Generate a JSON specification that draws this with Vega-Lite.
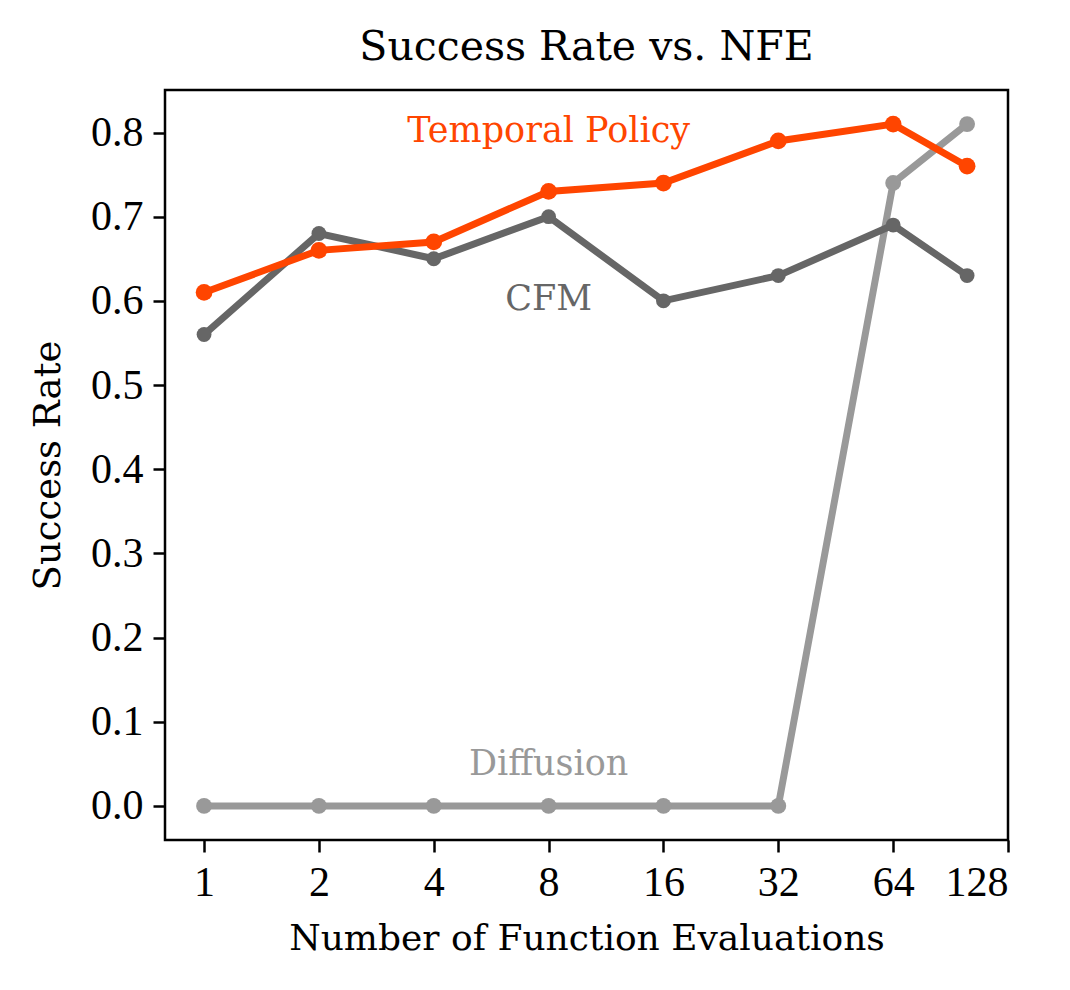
{
  "$schema": "https://vega.github.io/schema/vega-lite/v6.json",
  "autosize": {"type": "none"},
  "padding": {"left": 165, "top": 90, "right": 62, "bottom": 150},
  "width": 843,
  "height": 750,
  "background": "white",
  "config": {
    "font": "DejaVu Serif",
    "view": {"stroke": "black", "strokeWidth": 2.5},
    "axis": {
      "grid": false,
      "domain": false,
      "tickColor": "black",
      "tickSize": 12,
      "tickWidth": 2.5,
      "labelFont": "Liberation Serif",
      "labelFontSize": 42,
      "labelColor": "black",
      "labelPadding": 10,
      "titleFont": "DejaVu Serif",
      "titleFontSize": 37,
      "titleFontWeight": "normal",
      "titleColor": "black"
    }
  },
  "title": {
    "text": "Success Rate vs. NFE",
    "font": "DejaVu Serif",
    "fontSize": 41,
    "fontWeight": "normal",
    "color": "black",
    "offset": 21
  },
  "data": {
    "values": [
      {"nfe": 1, "series": "Temporal Policy", "rate": 0.61},
      {"nfe": 2, "series": "Temporal Policy", "rate": 0.66},
      {"nfe": 4, "series": "Temporal Policy", "rate": 0.67},
      {"nfe": 8, "series": "Temporal Policy", "rate": 0.73},
      {"nfe": 16, "series": "Temporal Policy", "rate": 0.74},
      {"nfe": 32, "series": "Temporal Policy", "rate": 0.79},
      {"nfe": 64, "series": "Temporal Policy", "rate": 0.81},
      {"nfe": 100, "series": "Temporal Policy", "rate": 0.76},
      {"nfe": 1, "series": "CFM", "rate": 0.56},
      {"nfe": 2, "series": "CFM", "rate": 0.68},
      {"nfe": 4, "series": "CFM", "rate": 0.65},
      {"nfe": 8, "series": "CFM", "rate": 0.70},
      {"nfe": 16, "series": "CFM", "rate": 0.60},
      {"nfe": 32, "series": "CFM", "rate": 0.63},
      {"nfe": 64, "series": "CFM", "rate": 0.69},
      {"nfe": 100, "series": "CFM", "rate": 0.63},
      {"nfe": 1, "series": "Diffusion", "rate": 0.0},
      {"nfe": 2, "series": "Diffusion", "rate": 0.0},
      {"nfe": 4, "series": "Diffusion", "rate": 0.0},
      {"nfe": 8, "series": "Diffusion", "rate": 0.0},
      {"nfe": 16, "series": "Diffusion", "rate": 0.0},
      {"nfe": 32, "series": "Diffusion", "rate": 0.0},
      {"nfe": 64, "series": "Diffusion", "rate": 0.74},
      {"nfe": 100, "series": "Diffusion", "rate": 0.81}
    ]
  },
  "encoding": {
    "x": {
      "field": "nfe",
      "type": "quantitative",
      "scale": {"type": "log", "base": 2, "domain": [0.79, 128], "nice": false},
      "axis": {"values": [1, 2, 4, 8, 16, 32, 64, 128], "format": "d", "title": "Number of Function Evaluations", "titlePadding": 18, "titleFontSize": 36}
    },
    "y": {
      "field": "rate",
      "type": "quantitative",
      "scale": {"domain": [-0.0405, 0.8505], "nice": false, "zero": false},
      "axis": {"values": [0, 0.1, 0.2, 0.3, 0.4, 0.5, 0.6, 0.7, 0.8], "format": ".1f", "title": "Success Rate", "titlePadding": 23}
    }
  },
  "layer": [
    {
      "transform": [{"filter": "datum.series === 'Diffusion'"}],
      "mark": {"type": "line", "color": "#999999", "strokeWidth": 7, "point": {"filled": true, "size": 250, "color": "#999999", "opacity": 1}}
    },
    {
      "transform": [{"filter": "datum.series === 'CFM'"}],
      "mark": {"type": "line", "color": "#666666", "strokeWidth": 7, "point": {"filled": true, "size": 220, "color": "#666666", "opacity": 1}}
    },
    {
      "transform": [{"filter": "datum.series === 'Temporal Policy'"}],
      "mark": {"type": "line", "color": "#FF4500", "strokeWidth": 7, "point": {"filled": true, "size": 280, "color": "#FF4500", "opacity": 1}}
    },
    {
      "data": {"values": [
        {"nfe": 8, "rate": 0.802, "label": "Temporal Policy", "series": "Temporal Policy"},
        {"nfe": 8, "rate": 0.602, "label": "CFM", "series": "CFM"},
        {"nfe": 8, "rate": 0.05, "label": "Diffusion", "series": "Diffusion"}
      ]},
      "mark": {"type": "text", "font": "DejaVu Serif", "fontSize": 35, "align": "center", "baseline": "middle"},
      "encoding": {
        "text": {"field": "label"},
        "color": {
          "field": "series",
          "scale": {"domain": ["Temporal Policy", "CFM", "Diffusion"], "range": ["#FF4500", "#666666", "#999999"]},
          "legend": null
        }
      }
    }
  ]
}
